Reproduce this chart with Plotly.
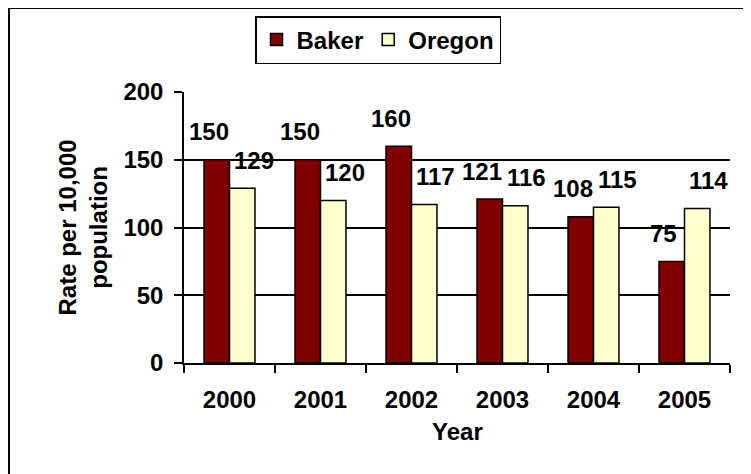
import plotly.graph_objects as go

years = ["2000", "2001", "2002", "2003", "2004", "2005"]
baker = [150, 150, 160, 121, 108, 75]
oregon = [129, 120, 117, 116, 115, 114]
y_ticks = [0, 50, 100, 150, 200]

FONT = "Arial, Liberation Sans, sans-serif"
FS = 24
OFF = 8  # page body margin
W, H = 751, 474
L, T = 184 - OFF, 92 - OFF
pw, ph = 546, 271
R = W - L - pw
B = H - T - ph

def px_x(p):
    return (p - OFF - L) / pw

def px_y(p):
    return (T + ph - (p - OFF)) / ph

def bold(size=FS):
    return dict(family=FONT, size=size, color="black", weight="bold")

fig = go.Figure()
fig.add_trace(go.Bar(name="Baker", x=years, y=baker,
                     marker=dict(color="#800000", line=dict(color="black", width=1.5))))
fig.add_trace(go.Bar(name="Oregon", x=years, y=oregon,
                     marker=dict(color="#FFFFCC", line=dict(color="black", width=1.5))))

annotations = []
for i, v in enumerate(baker):
    annotations.append(dict(x=i, y=v, text=str(v), showarrow=False, xref="x", yref="y",
                            xanchor="center", yanchor="middle", xshift=-21, yshift=28,
                            font=bold()))
for i, v in enumerate(oregon):
    annotations.append(dict(x=i, y=v, text=str(v), showarrow=False, xref="x", yref="y",
                            xanchor="center", yanchor="middle", xshift=24, yshift=28,
                            font=bold()))

annotations.append(dict(x=px_x(82), y=0.5, xref="paper", yref="paper", showarrow=False,
                        text="Rate per 10,000<br>population", textangle=-90,
                        xanchor="center", yanchor="middle", font=bold()))
annotations.append(dict(x=0.5, y=px_y(431), xref="paper", yref="paper", showarrow=False,
                        text="Year", xanchor="center", yanchor="middle", font=bold()))

shapes = [dict(type="rect", xref="paper", yref="paper",
               x0=px_x(9), x1=px_x(780), y0=px_y(500), y1=px_y(8),
               line=dict(color="black", width=2), fillcolor="rgba(0,0,0,0)", layer="below")]

fig.update_layout(
    width=W, height=H,
    margin=dict(l=L, r=R, t=T, b=B, autoexpand=False),
    paper_bgcolor="white", plot_bgcolor="white",
    barmode="group", bargap=0.44, bargroupgap=0,
    font=bold(),
    showlegend=True,
    legend=dict(orientation="h", x=px_x(255), y=px_y(16), xanchor="left", yanchor="top",
                bgcolor="white", bordercolor="black", borderwidth=1.5,
                font=bold(), itemwidth=30, tracegroupgap=0),
    xaxis=dict(type="category", range=[-0.5, len(years) - 0.5],
               showline=True, linecolor="black", linewidth=1.5,
               ticks="outside", tickson="boundaries", ticklen=8, tickcolor="black", tickwidth=1.5,
               ticklabelstandoff=14, showgrid=False, tickfont=bold()),
    yaxis=dict(range=[0, 200], tickvals=y_ticks, showline=True, linecolor="black", linewidth=1.5,
               ticks="outside", ticklen=8, tickcolor="black", tickwidth=1.5,
               showgrid=True, gridcolor="black", gridwidth=1.5, zeroline=False,
               ticklabelstandoff=6, tickfont=bold()),
    annotations=annotations,
    shapes=shapes,
)

fig.write_html("out.html")
